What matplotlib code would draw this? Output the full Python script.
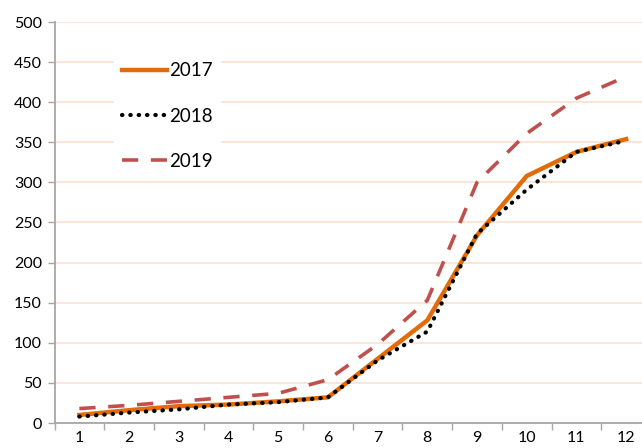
import matplotlib
matplotlib.use("Agg")
import matplotlib.pyplot as plt

months = [1, 2, 3, 4, 5, 6, 7, 8, 9, 10, 11, 12]
s2017 = [10, 16, 21, 23, 27, 32, 80, 128, 234, 308, 338, 354]
s2018 = [8, 13, 17, 23, 26, 32, 78, 114, 236, 291, 338, 352]
s2019 = [18, 22, 27, 32, 37, 54, 98, 153, 300, 361, 405, 432]
y_ticks = list(range(0, 501, 50))

plt.rcParams['font.family'] = ['Lato', 'DejaVu Sans']

fig = plt.figure(figsize=(6.42, 4.48), dpi=100)
W, H = 642, 448
left, right, top, bottom = 54.5, 651, 22, 423
ax = fig.add_axes([left / W, 1 - bottom / H, (right - left) / W, (bottom - top) / H])

ax.plot(months, s2017, color='#E36C09', lw=3.2, solid_joinstyle='miter', label='2017', zorder=3)
ax.plot(months, s2018, color='black', lw=3.0, linestyle=(0, (0.1, 1.9)),
        dash_capstyle='round', label='2018', zorder=4)
ax.plot(months, s2019, color='#C0504D', lw=2.6, linestyle=(0, (4.5, 3.5)), label='2019', zorder=2)

ax.set_xlim(0.5, 12.5)
ax.set_ylim(0, 500)
ax.set_yticks(y_ticks)
ax.set_xticks(months)
ax.set_xticks([m + 0.5 for m in [0] + months], minor=True)
ax.tick_params(axis='x', which='major', length=0, labelsize=11.5, pad=6)
ax.tick_params(axis='x', which='minor', length=5, color='#A6A6A6', width=1)
ax.tick_params(axis='y', length=5, color='#A6A6A6', width=1, labelsize=11.5, pad=4)
ax.grid(axis='y', color='#FCE4D6', lw=1.3, zorder=0)
for side in ['top', 'right']:
    ax.spines[side].set_visible(False)
for side in ['left', 'bottom']:
    ax.spines[side].set_color('#A6A6A6')
    ax.spines[side].set_linewidth(1.3)

leg = ax.legend(loc='upper left', bbox_to_anchor=((114 - left) / (right - left), 1 - (54 - top) / (bottom - top)),
                frameon=True, fancybox=False, edgecolor='none', facecolor='white', framealpha=1,
                fontsize=13.5, handlelength=2.4, handletextpad=0.1, labelspacing=1.5,
                borderpad=0.45, borderaxespad=0)

fig.savefig('out.png', dpi=100)
